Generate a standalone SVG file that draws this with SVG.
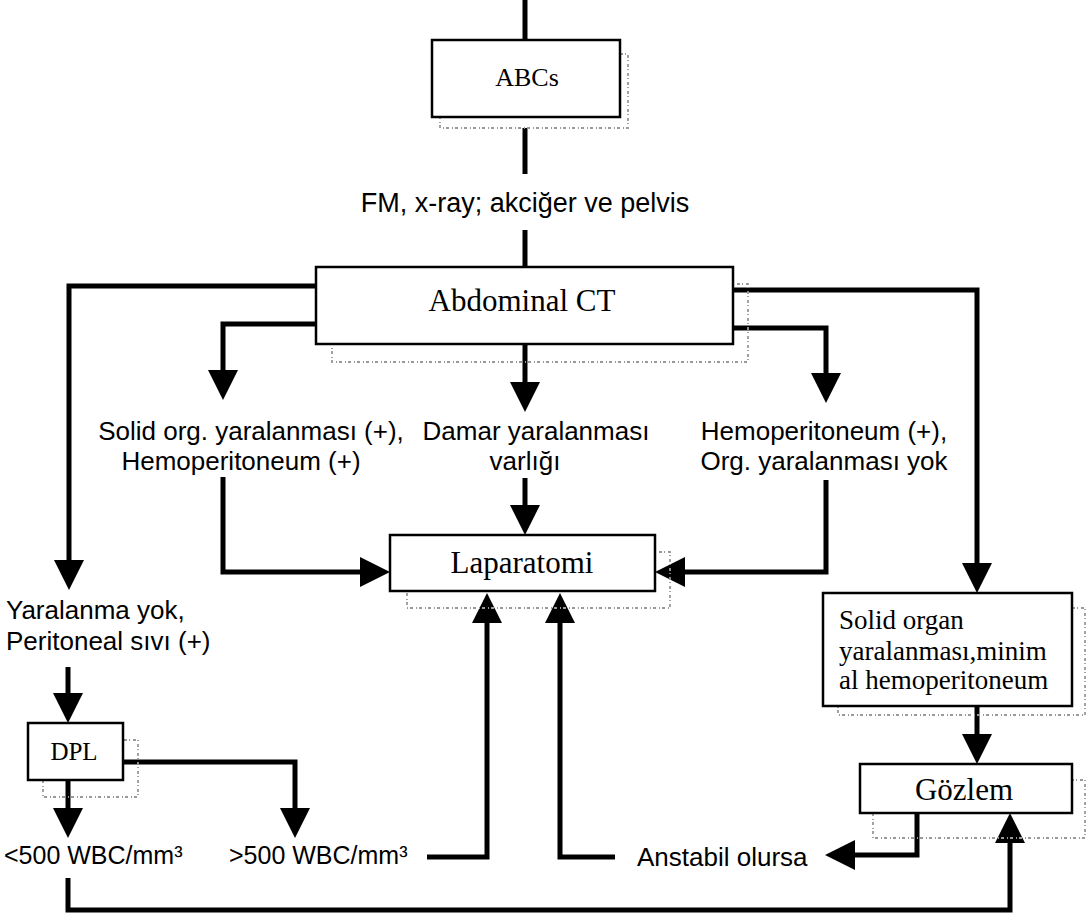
<svg xmlns="http://www.w3.org/2000/svg" width="1090" height="923" viewBox="0 0 1090 923">
<style>
.box{fill:#fff;stroke:#000;stroke-width:2.5}
.shadow{fill:none;stroke:#999;stroke-width:1.8;stroke-dasharray:3 2 1 3}
.serif{font-family:"Liberation Serif","Times New Roman",serif;fill:#000}
.sans{font-family:"Liberation Sans",Arial,sans-serif;font-size:26px;fill:#000}
.ln{fill:none;stroke:#000;stroke-width:5;stroke-linejoin:miter}
.ah{fill:#000}
</style>
<defs>
<polygon id="down" points="-15,-30 15,-30 0,0"/>
<polygon id="up" points="-15,30 15,30 0,0"/>
<polygon id="right" points="-30,-15 -30,15 0,0"/>
<polygon id="left" points="30,-15 30,15 0,0"/>
</defs>

<g id="connectors">
<path class="ln" d="M525,0 V40"/>
<path class="ln" d="M525,128 V174"/>
<path class="ln" d="M525,230 V267"/>
<path class="ln" d="M316,286 H69 V562"/>
<use href="#down" x="69" y="590" class="ah"/>
<path class="ln" d="M316,324 H223 V372"/>
<use href="#down" x="223" y="400" class="ah"/>
<path class="ln" d="M733,290 H977 V565"/>
<use href="#down" x="977" y="593" class="ah"/>
<path class="ln" d="M733,328 H826 V375"/>
<use href="#down" x="826" y="403" class="ah"/>
<path class="ln" d="M525,344 V384"/>
<use href="#down" x="525" y="412" class="ah"/>
<path class="ln" d="M525,478 V507"/>
<use href="#down" x="525" y="535" class="ah"/>
<path class="ln" d="M223,477 V572 H362"/>
<use href="#right" x="390" y="572" class="ah"/>
<path class="ln" d="M826,480 V572 H683"/>
<use href="#left" x="655" y="572" class="ah"/>
<path class="ln" d="M68,667 V695"/>
<use href="#down" x="68" y="723" class="ah"/>
<path class="ln" d="M68,780 V810"/>
<use href="#down" x="68" y="838" class="ah"/>
<path class="ln" d="M123,762 H295 V810"/>
<use href="#down" x="295" y="838" class="ah"/>
<path class="ln" d="M427,857 H487 V621"/>
<use href="#up" x="487" y="593" class="ah"/>
<path class="ln" d="M615,857 H560 V621"/>
<use href="#up" x="560" y="593" class="ah"/>
<path class="ln" d="M977,706 V736"/>
<use href="#down" x="977" y="764" class="ah"/>
<path class="ln" d="M917,813 V855 H853"/>
<use href="#left" x="825" y="855" class="ah"/>
<path class="ln" d="M68,878 V910 H1010 V841"/>
<use href="#up" x="1010" y="813" class="ah"/>
</g>

<g id="abcs">
<rect class="shadow" x="440" y="54" width="188" height="74"/>
<rect class="box" x="432" y="40" width="188" height="77"/>
<text class="serif" x="527" y="86" font-size="26" text-anchor="middle">ABCs</text>
</g>

<g id="fm">
<text class="sans" x="525" y="212" font-size="27" text-anchor="middle" style="font-size:27px">FM, x-ray; akciğer ve pelvis</text>
</g>

<g id="ct">
<rect class="shadow" x="332" y="284" width="416" height="78"/>
<rect class="box" x="316" y="267" width="417" height="77"/>
<text class="serif" x="522" y="311" font-size="31" text-anchor="middle">Abdominal CT</text>
</g>

<g id="solid-org">
<text class="sans" text-anchor="middle"><tspan x="251" y="440">Solid org. yaralanması (+),</tspan><tspan x="241" y="470">Hemoperitoneum (+)</tspan></text>
</g>

<g id="damar">
<text class="sans" text-anchor="middle"><tspan x="536" y="440">Damar yaralanması</tspan><tspan x="525" y="470">varlığı</tspan></text>
</g>

<g id="hemo">
<text class="sans" text-anchor="middle"><tspan x="824" y="440">Hemoperitoneum (+),</tspan><tspan x="824" y="470">Org. yaralanması yok</tspan></text>
</g>

<g id="laparatomi">
<rect class="shadow" x="407" y="552" width="263" height="56"/>
<rect class="box" x="390" y="535" width="265" height="56"/>
<text class="serif" x="522" y="573" font-size="31" text-anchor="middle">Laparatomi</text>
</g>

<g id="yaralanma">
<text class="sans"><tspan x="6" y="619">Yaralanma yok,</tspan><tspan x="6" y="650">Peritoneal sıvı (+)</tspan></text>
</g>

<g id="dpl">
<rect class="shadow" x="43" y="740" width="95" height="57"/>
<rect class="box" x="28" y="723" width="95" height="57"/>
<text class="serif" x="74" y="760" font-size="25" text-anchor="middle">DPL</text>
</g>

<g id="lt500">
<text class="sans" x="4" y="864" style="font-size:25px">&lt;500 WBC/mm³</text>
</g>
<g id="gt500">
<text class="sans" x="229" y="864" style="font-size:25px">&gt;500 WBC/mm³</text>
</g>

<g id="anstabil">
<text class="sans" x="637" y="866">Anstabil olursa</text>
</g>

<g id="solid-organ">
<rect class="shadow" x="838" y="608" width="247" height="107"/>
<rect class="box" x="823" y="593" width="249" height="113"/>
<text class="serif" font-size="27"><tspan x="839" y="629">Solid organ</tspan><tspan x="839" y="660">yaralanması,minim</tspan><tspan x="839" y="689">al hemoperitoneum</tspan></text>
</g>

<g id="gozlem">
<rect class="shadow" x="873" y="780" width="212" height="58"/>
<rect class="box" x="860" y="764" width="212" height="49"/>
<text class="serif" x="964" y="800" font-size="31" text-anchor="middle">Gözlem</text>
</g>
</svg>
